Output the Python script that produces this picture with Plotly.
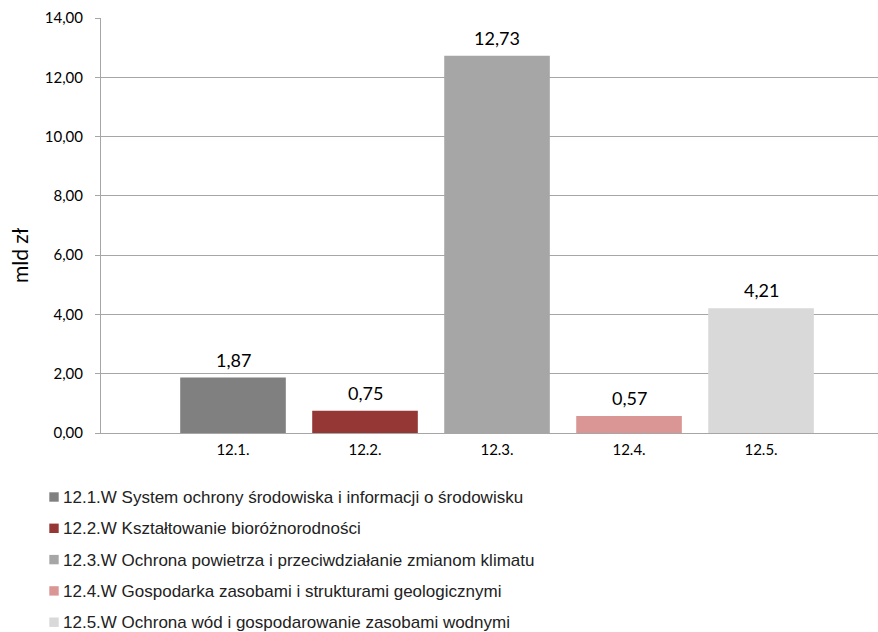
import plotly.graph_objects as go

categories = ["12.1.", "12.2.", "12.3.", "12.4.", "12.5."]
values = [1.87, 0.75, 12.73, 0.57, 4.21]
labels = ["1,87", "0,75", "12,73", "0,57", "4,21"]
legend_names = [
    "12.1.W System ochrony środowiska i informacji o środowisku",
    "12.2.W Kształtowanie bioróżnorodności",
    "12.3.W Ochrona powietrza i przeciwdziałanie zmianom klimatu",
    "12.4.W Gospodarka zasobami i strukturami geologicznymi",
    "12.5.W Ochrona wód i gospodarowanie zasobami wodnymi",
]
colors = ["#808080", "#953735", "#A6A6A6", "#D99694", "#D9D9D9"]
y_ticks = [0, 2, 4, 6, 8, 10, 12, 14]
y_tick_text = ["0,00", "2,00", "4,00", "6,00", "8,00", "10,00", "12,00", "14,00"]
y_title = "mld zł"

# layout geometry (pixels)
FIG_W, FIG_H = 878, 632
M_L, M_R, M_T, M_B = 101, 0, 18, 199
PW = FIG_W - M_L - M_R
PH = FIG_H - M_T - M_B


def px(xp):
    return (xp - M_L) / PW


def py(yp):
    return (FIG_H - M_B - yp) / PH


fig = go.Figure()
for i, c in enumerate(categories):
    fig.add_trace(go.Bar(
        x=[c], y=[values[i]], name=legend_names[i],
        marker=dict(color=colors[i], line=dict(width=0)),
        width=0.8, showlegend=False,
    ))

annotations = []
for i, c in enumerate(categories):
    annotations.append(dict(
        x=c, y=values[i], xref="x", yref="y", text=labels[i], showarrow=False,
        yanchor="bottom", yshift=5,
        font=dict(family="Lato", size=18, color="#000000"),
    ))

# y axis title
annotations.append(dict(
    x=px(19), y=py(255), xref="paper", yref="paper", text=y_title,
    showarrow=False, textangle=-90, xanchor="center", yanchor="middle",
    font=dict(family="Lato", size=21, color="#000000"),
))

# legend (drawn below the plot)
shapes = []
for i, name in enumerate(legend_names):
    cy = 497 + 31.3 * i
    shapes.append(dict(
        type="rect", xref="paper", yref="paper",
        x0=px(49.3), x1=px(58.7), y0=py(cy - 4.7), y1=py(cy + 4.7),
        fillcolor=colors[i], line=dict(width=0), layer="above",
    ))
    annotations.append(dict(
        x=px(61), y=py(cy + 0.5), xref="paper", yref="paper", text=name,
        showarrow=False, xanchor="left", yanchor="middle",
        font=dict(family="Liberation Sans", size=17, color="#222222"),
    ))

fig.update_layout(
    width=FIG_W, height=FIG_H,
    margin=dict(l=M_L, r=M_R, t=M_T, b=M_B),
    plot_bgcolor="white", paper_bgcolor="white",
    barmode="overlay",
    showlegend=False,
    annotations=annotations,
    shapes=shapes,
    xaxis=dict(
        type="category", categoryorder="array", categoryarray=categories,
        range=[-1, 4.886], showgrid=False, showline=True, linecolor="#A6A6A6",
        linewidth=1, ticks="", automargin=False, ticklabelstandoff=3,
        tickfont=dict(family="Lato", size=15, color="#000000"),
    ),
    yaxis=dict(
        range=[0, 14], tickvals=y_ticks, ticktext=y_tick_text,
        showgrid=True, gridcolor="#A6A6A6", gridwidth=1,
        showline=True, linecolor="#A6A6A6", linewidth=1,
        ticks="outside", ticklen=5, tickcolor="#A6A6A6", automargin=False,
        ticklabelstandoff=9,
        tickfont=dict(family="Lato", size=15, color="#000000"),
        zeroline=False,
    ),
)

fig.write_html(
    "out.html",
    config={"displayModeBar": False},
    post_script="document.body.style.margin='0';document.body.style.overflow='hidden';",
)
